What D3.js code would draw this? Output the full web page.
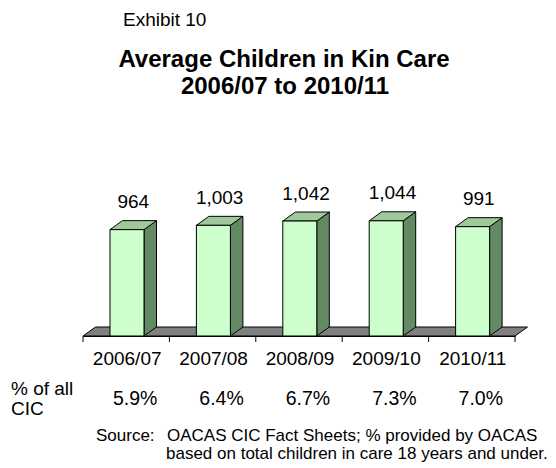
<!DOCTYPE html>
<html>
<head>
<meta charset="utf-8">
<script src="https://cdn.jsdelivr.net/npm/d3@7/dist/d3.min.js"></script>
<style>
  html, body { margin: 0; padding: 0; background: #ffffff; }
  svg { display: block; }
  text { font-family: "Liberation Sans", Arial, sans-serif; fill: #000; }
</style>
</head>
<body>
<svg id="chart" width="556" height="468"></svg>
<script>
// ---- data ----
const categories = ["2006/07", "2007/08", "2008/09", "2009/10", "2010/11"];
const kinCare = [964, 1003, 1042, 1044, 991];
const pctOfCIC = ["5.9%", "6.4%", "6.7%", "7.3%", "7.0%"];
const valueLabels = ["964", "1,003", "1,042", "1,044", "991"];

// ---- layout ----
const svg = d3.select("#chart");
const floorY = 336;
const depthX = 12.5, depthY = 9;
const barW = 34;

const x = d3.scaleBand().domain(categories).range([83, 515]);
const y = d3.scaleLinear().domain([0, 1200]).range([floorY, 203.6]);

// titles
svg.append("text").attr("x", 123).attr("y", 26)
  .style("font-size", "19px").text("Exhibit 10");
svg.append("text").attr("x", 284).attr("y", 67).attr("text-anchor", "middle")
  .style("font-size", "24px").style("font-weight", "bold")
  .text("Average Children in Kin Care");
svg.append("text").attr("x", 285).attr("y", 94).attr("text-anchor", "middle")
  .style("font-size", "24px").style("font-weight", "bold")
  .text("2006/07 to 2010/11");

// floor
const x0 = x.range()[0], x1 = x.range()[1];
svg.append("path")
  .attr("d", `M${x0},${floorY} L${x0 + depthX},${floorY - depthY} L${x1 + depthX},${floorY - depthY} L${x1},${floorY} Z`)
  .attr("fill", "#808080").attr("stroke", "#000").attr("stroke-width", 1);

// axis with ticks at band boundaries
const axis = d3.axisBottom(x).tickSize(0).tickFormat("");
const gAxis = svg.append("g").attr("transform", `translate(0,${floorY})`).call(axis);
gAxis.select(".domain").attr("stroke", "#000");
const boundaries = categories.map(c => x(c)).concat([x1]);
gAxis.selectAll("line.bound").data(boundaries).enter().append("line")
  .attr("class", "bound")
  .attr("x1", d => d).attr("x2", d => d).attr("y1", 0).attr("y2", 6)
  .attr("stroke", "#000");

// bars
const bars = svg.append("g");
categories.forEach((c, i) => {
  const xl = x(c) + (x.bandwidth() - barW) / 2 + 0.8;
  const xr = xl + barW;
  const yt = y(kinCare[i]);
  // side
  bars.append("path")
    .attr("d", `M${xr},${yt} L${xr + depthX},${yt - depthY} L${xr + depthX},${floorY - depthY} L${xr},${floorY} Z`)
    .attr("fill", "#648a64").attr("stroke", "#000").attr("stroke-width", 1);
  // top
  bars.append("path")
    .attr("d", `M${xl},${yt} L${xl + depthX},${yt - depthY} L${xr + depthX},${yt - depthY} L${xr},${yt} Z`)
    .attr("fill", "#9fc99b").attr("stroke", "#000").attr("stroke-width", 1);
  // front
  bars.append("rect")
    .attr("x", xl).attr("y", yt).attr("width", barW).attr("height", floorY - yt)
    .attr("fill", "#ccffcc").attr("stroke", "#000").attr("stroke-width", 1);
  // value label
  svg.append("text")
    .attr("x", (xl + xr) / 2 + depthX / 2)
    .attr("y", yt - depthY - 12.5)
    .attr("text-anchor", "middle")
    .style("font-size", "19px")
    .text(valueLabels[i]);
});

// category labels
svg.append("g").selectAll("text").data(categories).enter().append("text")
  .attr("x", d => x(d) + x.bandwidth() / 2 + 1)
  .attr("y", 365)
  .attr("text-anchor", "middle")
  .style("font-size", "19px")
  .text(d => d);

// percent row
svg.append("text").attr("x", 11).attr("y", 395).style("font-size", "19px").text("% of all");
svg.append("text").attr("x", 11).attr("y", 415).style("font-size", "19px").text("CIC");
svg.append("g").selectAll("text").data(categories).enter().append("text")
  .attr("x", d => x(d) + x.bandwidth() / 2 + 9)
  .attr("y", 405)
  .attr("text-anchor", "middle")
  .style("font-size", "19.5px")
  .text((d, i) => pctOfCIC[i]);

// source
svg.append("text").attr("x", 96).attr("y", 441).style("font-size", "17px").text("Source:");
svg.append("text").attr("x", 167).attr("y", 441).style("font-size", "17px")
  .text("OACAS CIC Fact Sheets; % provided by OACAS");
svg.append("text").attr("x", 166).attr("y", 459).style("font-size", "17px")
  .text("based on total children in care 18 years and under.");
</script>
</body>
</html>
